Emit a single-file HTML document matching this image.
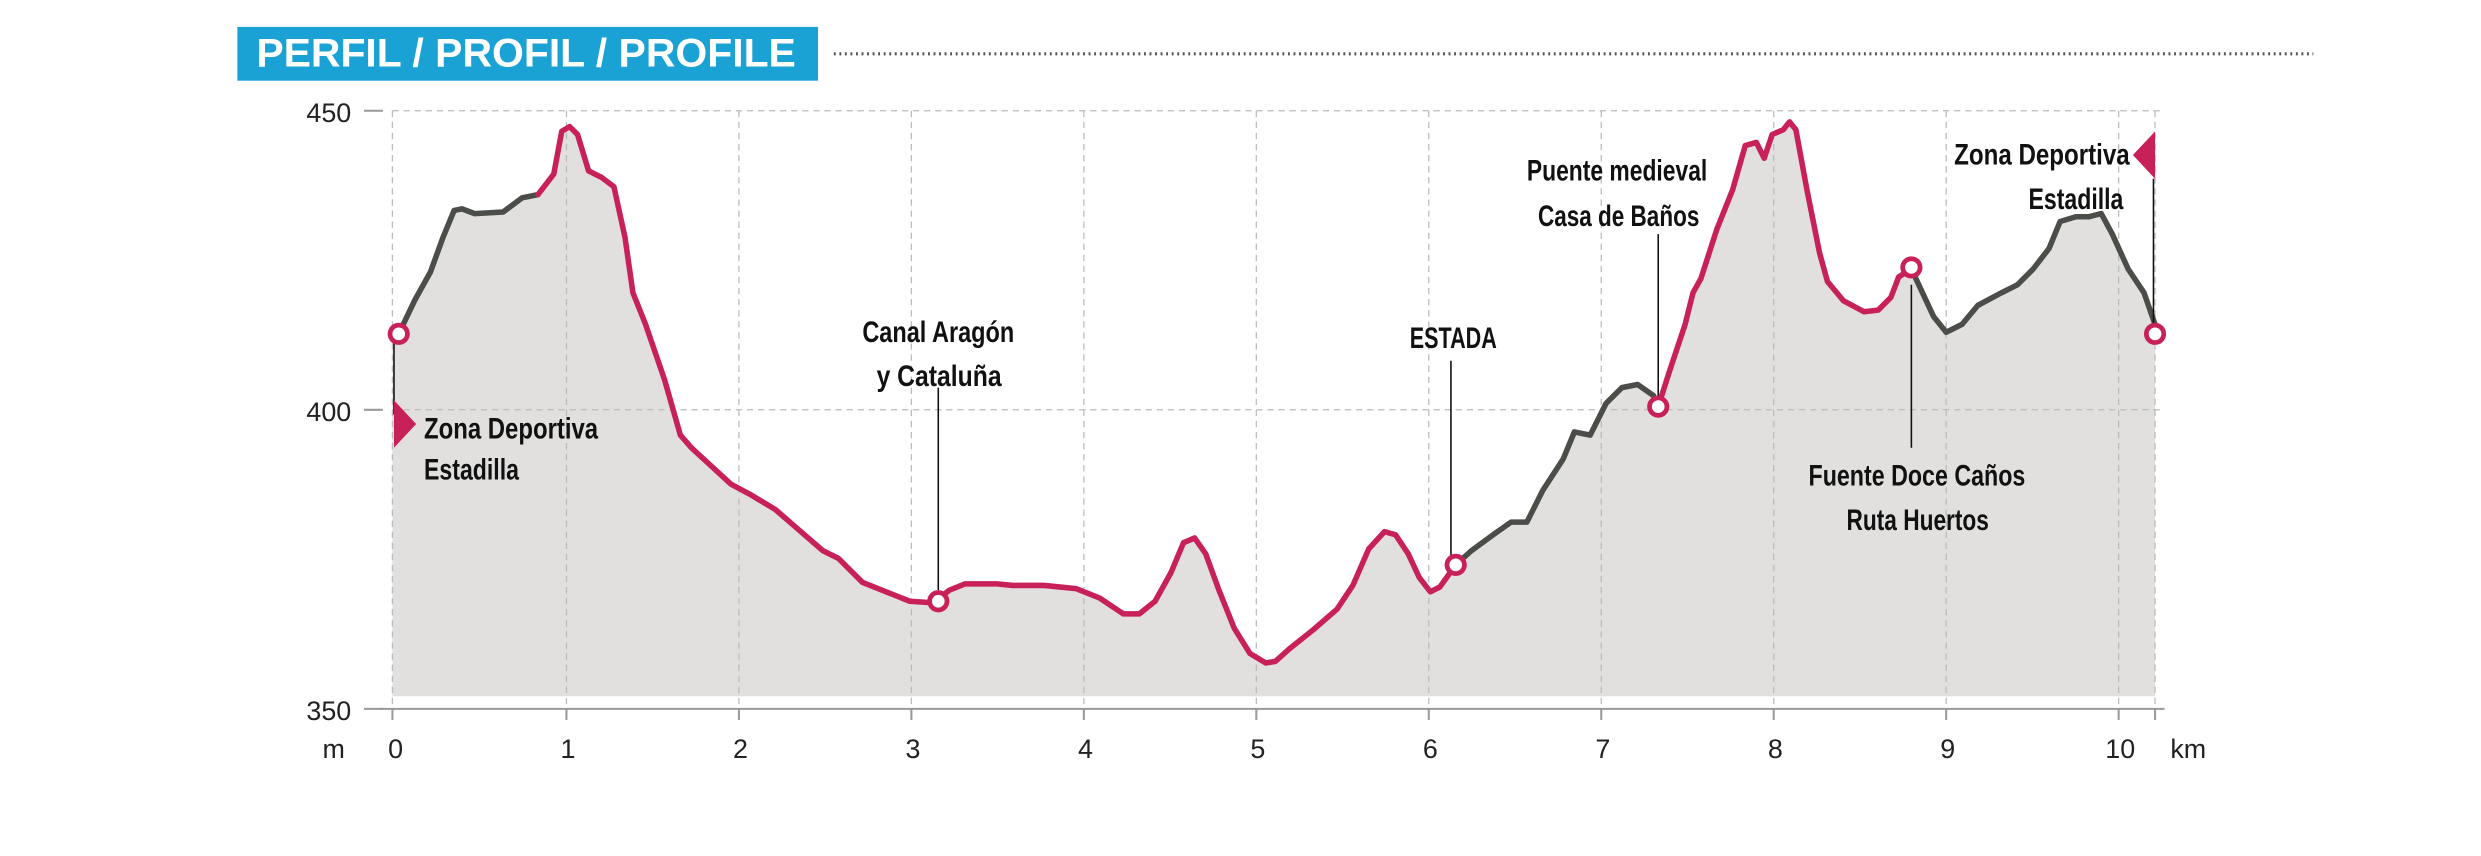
<!DOCTYPE html>
<html><head><meta charset="utf-8"><style>
html,body{margin:0;padding:0;background:#fff;}
svg{display:block;}
.t{font-family:"Liberation Sans",sans-serif;font-size:17px;fill:#222;}
.l{font-family:"Liberation Sans",sans-serif;font-size:19px;fill:#111;font-weight:bold;}
</style></head><body>
<svg width="2481" height="856" viewBox="0 0 1568 541" preserveAspectRatio="none" xmlns="http://www.w3.org/2000/svg">
<rect x="150" y="17" width="367" height="34" fill="#1ba2d5"/>
<text x="162" y="42" font-family="Liberation Sans, sans-serif" font-weight="bold" font-size="25" fill="#fff" textLength="341" lengthAdjust="spacingAndGlyphs">PERFIL / PROFIL / PROFILE</text>
<line x1="527" y1="34" x2="1462" y2="34" stroke="#555" stroke-width="2" stroke-dasharray="1.2 2.3"/>
<path d="M248,440 L248,211 252,211 262,190 272,172 280,150 287,133 292,132 300,135 318,134 330,125 340,123 350,110 355,83 360,80 365,85 372,108 380,112 388,118 395,150 400,185 408,205 420,240 430,275 437,283 450,295 462,306 475,313 490,322 505,335 520,348 530,353 545,368 560,374 575,380 590,381 600,373 610,369 630,369 640,370 660,370 680,372 695,378 710,388 720,388 730,380 740,362 748,343 755,340 762,350 770,372 780,397 790,413 800,419 806,418 815,410 830,398 845,385 855,370 865,347 875,336 882,338 890,350 897,365 904,374 910,371 920,357 930,348 945,337 955,330 965,330 975,310 988,290 995,273 1005,275 1015,255 1025,245 1035,243 1045,250 1048,257 1055,235 1065,205 1070,185 1075,176 1085,145 1095,120 1103,92 1110,90 1115,100 1120,85 1127,82 1131,77 1135,82 1142,120 1150,160 1155,178 1165,190 1178,197 1187,196 1195,188 1200,175 1208,170 1215,185 1222,200 1230,210 1240,205 1250,193 1265,185 1275,180 1285,170 1295,157 1302,140 1312,137 1320,137 1328,135 1335,148 1345,170 1355,185 1362,205 1362,440 Z" fill="#e1e0de"/>
<g stroke="#bbb" stroke-width="0.8" stroke-dasharray="4 3">
<line x1="248" y1="70" x2="1368" y2="70"/><line x1="248" y1="259" x2="1368" y2="259"/>
<line x1="248" y1="70" x2="248" y2="448"/><line x1="358" y1="70" x2="358" y2="448"/><line x1="467" y1="70" x2="467" y2="448"/><line x1="576" y1="70" x2="576" y2="448"/><line x1="685" y1="70" x2="685" y2="448"/><line x1="794" y1="70" x2="794" y2="448"/><line x1="903" y1="70" x2="903" y2="448"/><line x1="1012" y1="70" x2="1012" y2="448"/><line x1="1121" y1="70" x2="1121" y2="448"/><line x1="1230" y1="70" x2="1230" y2="448"/><line x1="1339" y1="70" x2="1339" y2="448"/><line x1="1362" y1="70" x2="1362" y2="448"/>
</g>
<g stroke="#999" stroke-width="1.3">
<line x1="240" y1="448" x2="1368" y2="448"/>
<line x1="230" y1="70" x2="242" y2="70"/><line x1="230" y1="259" x2="242" y2="259"/><line x1="230" y1="448" x2="242" y2="448"/>
<line x1="248" y1="448" x2="248" y2="455"/><line x1="358" y1="448" x2="358" y2="455"/><line x1="467" y1="448" x2="467" y2="455"/><line x1="576" y1="448" x2="576" y2="455"/><line x1="685" y1="448" x2="685" y2="455"/><line x1="794" y1="448" x2="794" y2="455"/><line x1="903" y1="448" x2="903" y2="455"/><line x1="1012" y1="448" x2="1012" y2="455"/><line x1="1121" y1="448" x2="1121" y2="455"/><line x1="1230" y1="448" x2="1230" y2="455"/><line x1="1339" y1="448" x2="1339" y2="455"/><line x1="1362" y1="448" x2="1362" y2="455"/>
</g>
<g class="t" text-anchor="end"><text x="222" y="77">450</text><text x="222" y="266">400</text><text x="222" y="455">350</text><text x="218" y="479">m</text></g>
<g class="t" text-anchor="middle"><text x="250" y="479">0</text><text x="359" y="479">1</text><text x="468" y="479">2</text><text x="577" y="479">3</text><text x="686" y="479">4</text><text x="795" y="479">5</text><text x="904" y="479">6</text><text x="1013" y="479">7</text><text x="1122" y="479">8</text><text x="1231" y="479">9</text><text x="1340" y="479">10</text><text x="1383" y="479">km</text></g>
<g fill="none" stroke-width="3.5" stroke-linejoin="round" stroke-linecap="round">
<path stroke="#4a4d48" d="M252,211 262,190 272,172 280,150 287,133 292,132 300,135 318,134 330,125 340,123"/>
<path stroke="#c8215a" d="M340,123 350,110 355,83 360,80 365,85 372,108 380,112 388,118 395,150 400,185 408,205 420,240 430,275 437,283 450,295 462,306 475,313 490,322 505,335 520,348 530,353 545,368 560,374 575,380 590,381 600,373 610,369 630,369 640,370 660,370 680,372 695,378 710,388 720,388 730,380 740,362 748,343 755,340 762,350 770,372 780,397 790,413 800,419 806,418 815,410 830,398 845,385 855,370 865,347 875,336 882,338 890,350 897,365 904,374 910,371 920,357"/>
<path stroke="#4a4d48" d="M920,357 930,348 945,337 955,330 965,330 975,310 988,290 995,273 1005,275 1015,255 1025,245 1035,243 1045,250 1048,257"/>
<path stroke="#c8215a" d="M1048,257 1055,235 1065,205 1070,185 1075,176 1085,145 1095,120 1103,92 1110,90 1115,100 1120,85 1127,82 1131,77 1135,82 1142,120 1150,160 1155,178 1165,190 1178,197 1187,196 1195,188 1200,175 1208,170"/>
<path stroke="#4a4d48" d="M1208,170 1215,185 1222,200 1230,210 1240,205 1250,193 1265,185 1275,180 1285,170 1295,157 1302,140 1312,137 1320,137 1328,135 1335,148 1345,170 1355,185 1362,205"/>
</g>
<g stroke="#111" stroke-width="1">
<line x1="249" y1="215" x2="249" y2="262"/><line x1="593" y1="245" x2="593" y2="373"/><line x1="917" y1="228" x2="917" y2="352"/><line x1="1048" y1="148" x2="1048" y2="252"/><line x1="1208" y1="180" x2="1208" y2="283"/><line x1="1361" y1="113" x2="1361" y2="205"/>
</g>
<polygon points="249,253 263,268 249,283" fill="#c8215a"/>
<polygon points="1362,83 1348,98 1362,113" fill="#c8215a"/>
<g fill="#fff" stroke="#c8215a" stroke-width="3">
<circle cx="252" cy="211" r="5.5"/><circle cx="593" cy="380" r="5.5"/><circle cx="920" cy="357" r="5.5"/><circle cx="1048" cy="257" r="5.5"/><circle cx="1208" cy="169" r="5.5"/><circle cx="1362" cy="211" r="5.5"/>
</g>
<g class="l">
<text x="268" y="277" textLength="110" lengthAdjust="spacingAndGlyphs">Zona Deportiva</text>
<text x="268" y="303" textLength="60" lengthAdjust="spacingAndGlyphs">Estadilla</text>
<text x="545" y="216" textLength="96" lengthAdjust="spacingAndGlyphs">Canal Aragón</text>
<text x="554" y="244" textLength="79" lengthAdjust="spacingAndGlyphs">y Cataluña</text>
<text x="891" y="220" textLength="55" lengthAdjust="spacingAndGlyphs">ESTADA</text>
<text x="965" y="114" textLength="114" lengthAdjust="spacingAndGlyphs">Puente medieval</text>
<text x="972" y="143" textLength="102" lengthAdjust="spacingAndGlyphs">Casa de Baños</text>
<text x="1143" y="307" textLength="137" lengthAdjust="spacingAndGlyphs">Fuente Doce Caños</text>
<text x="1167" y="335" textLength="90" lengthAdjust="spacingAndGlyphs">Ruta Huertos</text>
<text x="1235" y="104" textLength="111" lengthAdjust="spacingAndGlyphs">Zona Deportiva</text>
<text x="1282" y="132" textLength="60" lengthAdjust="spacingAndGlyphs">Estadilla</text>
</g>
</svg>
</body></html>
